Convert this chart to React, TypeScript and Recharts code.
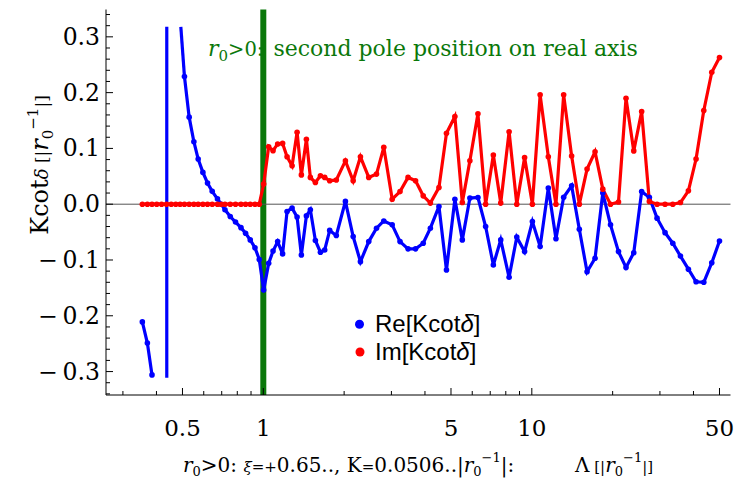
import { ComposedChart, Line, XAxis, YAxis, ReferenceLine } from 'recharts'

// Λ grid (units of 1/r0) and K cot δ values
const lambdaVals = [
  0.3544, 0.37, 0.385, 0.401, 0.418, 0.436, 0.454, 0.472, 0.49, 0.5085,
  0.5295, 0.5513, 0.572, 0.5957, 0.6197, 0.6452, 0.675, 0.697, 0.7198, 0.7531,
  0.788, 0.8257, 0.859, 0.894, 0.931, 0.966, 1.003, 1.047, 1.087, 1.131,
  1.18, 1.226, 1.28, 1.336, 1.386, 1.447, 1.497, 1.563, 1.632, 1.693,
  1.767, 1.87, 2.022, 2.161, 2.3, 2.47, 2.64, 2.81, 3.02, 3.23,
  3.46, 3.69, 3.94, 4.19, 4.51, 4.81, 5.17, 5.51, 5.88, 6.3,
  6.73, 7.19, 7.66, 8.23, 8.79, 9.4, 10.05, 10.74, 11.52, 12.3,
  13.14, 14.07, 15.03, 16.06, 17.2, 18.38, 19.64, 21.03, 22.43, 23.97,
  25.65, 27.4, 29.27, 31.35, 33.5, 35.77, 38.3, 40.9, 43.7, 46.8, 50.0,
]

// null = off the plot range (near the pole)
const reVals = [
  -0.211, -0.249, -0.306, null, null, null, null, null, null, 0.229,
  0.156, 0.112, 0.081, 0.057, 0.038, 0.023, 0.0095, 0.0, -0.01, -0.022,
  -0.032, -0.042, -0.052, -0.064, -0.078, -0.099, -0.154, -0.106, -0.084, -0.067,
  -0.089, -0.013, -0.007, -0.023, -0.091, -0.021, -0.01, -0.065, -0.086, -0.082,
  -0.047, -0.056, 0.005, -0.058, -0.103, -0.067, -0.043, -0.03, -0.037, -0.067,
  -0.08, -0.08, -0.07, -0.043, -0.004, -0.118, 0.009, -0.064, 0.011, 0.012,
  -0.04, -0.109, -0.064, -0.131, -0.059, -0.085, -0.031, -0.076, 0.029, -0.062,
  0.0125, 0.033, -0.045, -0.121, -0.097, 0.02, -0.037, -0.085, -0.1135, -0.087,
  0.0226, 0.0125, -0.025, -0.051, -0.07, -0.093, -0.1165, -0.139, -0.14, -0.105, -0.066,
]

const imVals = [
  0, 0, 0, 0, 0, 0, 0, 0, 0, 0,
  0, 0, 0, 0, 0, 0, 0, 0, 0, 0,
  0, 0, 0, 0, 0, 0, 0.036, 0.103, 0.096, 0.108,
  0.109, 0.085, 0.069, 0.129, 0.0525, 0.1165, 0.048, 0.039, 0.051, 0.048,
  0.042, 0.0435, 0.0776, 0.042, 0.085, 0.048, 0.054, 0.102, 0.009, 0.0226,
  0.048, 0.042, 0.015, 0.002, 0.03, 0.127, 0.157, 0.003, 0.078, 0.162,
  0, 0.088, 0.002, 0.13, 0, 0.0835, 0, 0.196, 0.085, 0,
  0.196, 0.0865, 0, 0.063, 0.094, 0.027, 0, 0.004, 0.19, 0.0955,
  0.166, 0.005, 0, 0, 0, 0.003, 0.024, 0.081, 0.168, 0.2365, 0.263,
]

// pieces of the Re curve where it leaves the plot range
const poleLambda = [0.437, 0.437]
const poleRe = [-0.311, 0.318]
const edgeLambda = [0.493, 0.5085]
const edgeRe = [0.318, 0.229]

const xTicks = [0.3, 0.4, 0.5, 0.6, 0.7, 0.8, 0.9, 1, 2, 3, 4, 5, 6, 7, 8, 9, 10, 20, 30, 40, 50]
const xMajor = [0.5, 1, 5, 10, 50]
const yTicks = Array.from({ length: 35 }, (_, i) => +(-0.34 + i * 0.02).toFixed(2))

const rows = lambdaVals.map((x, i) => ({ x, re: reVals[i], im: imVals[i] }))
const poleRows = poleLambda.map((x, i) => ({ x, re: poleRe[i] }))
const edgeRows = edgeLambda.map((x, i) => ({ x, re: edgeRe[i] }))

const BLUE = '#0000ff'
const RED = '#ff0000'
const GREEN = '#0a780a'
const SERIF = '"DejaVu Serif", serif'
const SANS = '"Liberation Sans", Arial, sans-serif'

const isMajorY = (v: number) => Math.abs(v * 10 - Math.round(v * 10)) < 1e-6
const fmtY = (v: number) =>
  Math.abs(v) < 1e-9 ? '0.0' : v < 0 ? '\u2212\u2009' + Math.abs(v).toFixed(1) : v.toFixed(1)

const BottomTick = ({ x, y, payload }: any) => {
  const major = xMajor.includes(payload.value)
  return (
    <g>
      <line x1={x} x2={x} y1={y} y2={y - (major ? 7 : 4)} stroke="#000" />
      {major && (
        <text x={x} y={y + 41} textAnchor="middle" fontFamily={SERIF} fontSize={23} fill="#000">
          {payload.value}
        </text>
      )}
    </g>
  )
}

const TopTick = ({ x, y, payload }: any) => {
  const major = xMajor.includes(payload.value)
  return <line x1={x} x2={x} y1={y} y2={y + (major ? 7 : 4)} stroke="#000" />
}

const LeftTick = ({ x, y, payload }: any) => {
  const major = isMajorY(payload.value)
  return (
    <g>
      <line x1={x} x2={x + (major ? 7 : 4)} y1={y} y2={y} stroke="#000" />
      {major && (
        <text x={x - 6} y={y + 8} textAnchor="end" fontFamily={SERIF} fontSize={23.5} fill="#000">
          {fmtY(payload.value)}
        </text>
      )}
    </g>
  )
}

const RightTick = ({ x, y, payload }: any) => {
  const major = isMajorY(payload.value)
  return <line x1={x} x2={x - (major ? 7 : 4)} y1={y} y2={y} stroke="#000" />
}

const dotStyle = (color: string) => ({ r: 2.8, fill: color, stroke: color, strokeWidth: 0 })

export default function App() {
  return (
    <div style={{ position: 'absolute', left: 0, top: 0, width: 734, height: 478, background: '#fff' }}>
      <ComposedChart
        width={734}
        height={478}
        data={rows}
        margin={{ top: 9.5, right: 3.5, bottom: 0, left: 6 }}
      >
        <XAxis
          xAxisId="b"
          dataKey="x"
          type="number"
          scale="log"
          domain={[0.2595, 54.95]}
          allowDataOverflow
          ticks={xTicks}
          interval={0}
          tickSize={0}
          tickMargin={0}
          tickLine={false}
          tick={<BottomTick />}
          axisLine={{ stroke: '#000' }}
          height={83}
        />
        <XAxis
          xAxisId="t"
          orientation="top"
          dataKey="x"
          type="number"
          scale="log"
          domain={[0.2595, 54.95]}
          allowDataOverflow
          ticks={xTicks}
          interval={0}
          tickSize={0}
          tickMargin={0}
          tickLine={false}
          tick={<TopTick />}
          axisLine={{ stroke: '#000' }}
          height={0}
        />
        <YAxis
          yAxisId="l"
          type="number"
          domain={[-0.342, 0.349]}
          allowDataOverflow
          ticks={yTicks}
          interval={0}
          tickSize={0}
          tickMargin={0}
          tickLine={false}
          tick={<LeftTick />}
          axisLine={{ stroke: '#000' }}
          width={100}
        />
        <YAxis
          yAxisId="r"
          orientation="right"
          type="number"
          domain={[-0.342, 0.349]}
          allowDataOverflow
          ticks={yTicks}
          interval={0}
          tickSize={0}
          tickMargin={0}
          tickLine={false}
          tick={<RightTick />}
          axisLine={{ stroke: '#000' }}
          width={0}
        />
        <ReferenceLine xAxisId="b" yAxisId="l" x={1} stroke={GREEN} strokeWidth={6} />
        <ReferenceLine xAxisId="b" yAxisId="l" y={0} stroke="#555" strokeWidth={1} />
        <Line
          xAxisId="b"
          yAxisId="l"
          data={poleRows}
          dataKey="re"
          stroke={BLUE}
          strokeWidth={3.2}
          dot={false}
          isAnimationActive={false}
        />
        <Line
          xAxisId="b"
          yAxisId="l"
          data={edgeRows}
          dataKey="re"
          stroke={BLUE}
          strokeWidth={3.2}
          dot={false}
          isAnimationActive={false}
        />
        <Line
          xAxisId="b"
          yAxisId="l"
          dataKey="re"
          stroke={BLUE}
          strokeWidth={3.2}
          dot={dotStyle(BLUE)}
          connectNulls={false}
          isAnimationActive={false}
        />
        <Line
          xAxisId="b"
          yAxisId="l"
          dataKey="im"
          stroke={RED}
          strokeWidth={3.2}
          dot={dotStyle(RED)}
          isAnimationActive={false}
        />
      </ComposedChart>
      <svg
        width={734}
        height={478}
        style={{ position: 'absolute', left: 0, top: 0, pointerEvents: 'none' }}
      >
        <text x={208} y={56} fill={GREEN} fontFamily={SERIF} fontSize={22}>
          <tspan fontStyle="italic">r</tspan>
          <tspan fontSize={15} dy={5}>0</tspan>
          <tspan dy={-5} fontSize={19.5}>&gt;0:</tspan>
          <tspan dx={3}> second pole position on real axis</tspan>
        </text>
        <circle cx={359.5} cy={324.3} r={4.5} fill={BLUE} />
        <text x={375} y={331.7} fontFamily={SANS} fontSize={24} fill="#000">
          Re[Kcot<tspan fontStyle="italic">δ</tspan>]
        </text>
        <circle cx={360} cy={352} r={4.5} fill={RED} />
        <text x={375} y={359.5} fontFamily={SANS} fontSize={24} fill="#000">
          Im[Kcot<tspan fontStyle="italic">δ</tspan>]
        </text>
        <text transform="translate(48,165) rotate(-90)" textAnchor="middle" fontFamily={SERIF} fontSize={24} fill="#000">
          Kcot<tspan fontStyle="italic" fontSize={18}>δ</tspan>
          <tspan fontSize={17}> [|</tspan>
          <tspan fontStyle="italic">r</tspan>
          <tspan fontSize={15} dy={5}>0</tspan>
          <tspan fontSize={15} dy={-15}>−1</tspan>
          <tspan fontSize={17} dy={10}>|]</tspan>
        </text>
        <text x={183} y={472} fontFamily={SERIF} fontSize={20} fill="#000">
          <tspan fontStyle="italic">r</tspan>
          <tspan fontSize={13} dy={4}>0</tspan>
          <tspan dy={-4}>&gt;0: </tspan>
          <tspan fontSize={15} fontStyle="italic">ξ</tspan>
          <tspan fontSize={15}>=+</tspan>
          <tspan>0.65.., K</tspan>
          <tspan fontSize={15}>=</tspan>
          <tspan>0.0506..|</tspan>
          <tspan fontStyle="italic">r</tspan>
          <tspan fontSize={13} dy={4}>0</tspan>
          <tspan fontSize={13} dy={-14}>−1</tspan>
          <tspan dy={10}>|:</tspan>
        </text>
        <text x={575} y={472} fontFamily={SERIF} fontSize={20} fill="#000">
          Λ<tspan fontSize={15}> [|</tspan>
          <tspan fontStyle="italic">r</tspan>
          <tspan fontSize={13} dy={4}>0</tspan>
          <tspan fontSize={13} dy={-14}>−1</tspan>
          <tspan fontSize={15} dy={10}>|]</tspan>
        </text>
      </svg>
    </div>
  )
}
